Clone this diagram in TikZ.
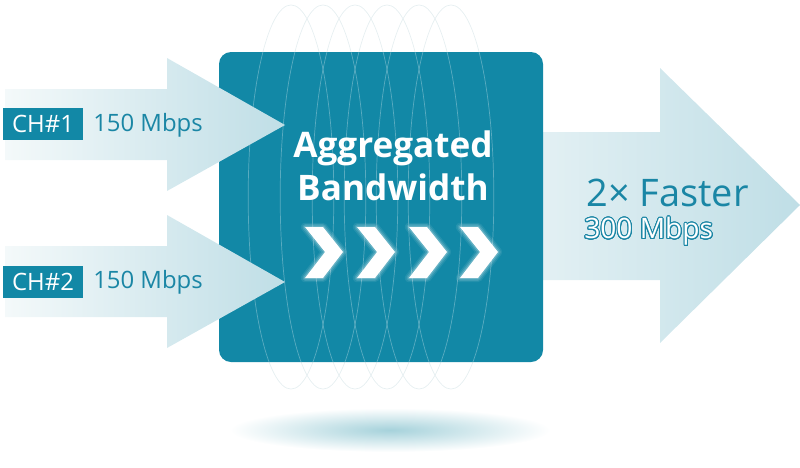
\documentclass[tikz,border=0pt]{standalone}
\usepackage{fontspec}
\setmainfont{Open Sans}
\usepackage{contour}
\contourlength{0.7pt}
\contournumber{24}
\definecolor{boxteal}{HTML}{1288A6}
\definecolor{textteal}{HTML}{1A86A5}
\definecolor{arrowlight}{HTML}{F4F9FA}
\definecolor{arrowdark}{HTML}{BFDEE6}
\definecolor{ringgray}{HTML}{E6EFF1}
\definecolor{shadowteal}{HTML}{A6D2DB}

\tikzset{
  chbox/.style={fill=boxteal, text=white, font=\fontsize{17}{20}\selectfont,
    minimum width=2cm, minimum height=0.78cm, inner sep=0pt},
  ratelabel/.style={text=textteal, font=\fontsize{17}{20}\selectfont, anchor=west, inner sep=0pt},
  ring/.style={line width=0.5pt},
}

\begin{document}
\begin{tikzpicture}[x=0.025cm, y=-0.025cm]

    % Fix the page to the reference size (pixels)
    \useasboundingbox (0,0) rectangle (800,467);

    % Shadow below the box
    \shade[inner color=shadowteal, outer color=white] (390,430) ellipse (4cm and 0.55cm);

    % Output arrow
    \shade[left color=arrowlight!70!arrowdark, right color=arrowdark]
        (530,132) -- (660,132) -- (660,68) -- (800,205) -- (660,343) -- (660,280) -- (530,280) -- cycle;

    % Rings outside the box
    \foreach \cx in {291,323,355,387,419,451}
        \draw[ring, ringgray] (\cx,197) ellipse (1.07cm and 4.8cm);

    % The aggregating box
    \fill[boxteal, rounded corners=0.3cm] (219,52) rectangle (543,362);

    % Rings seen through the box
    \begin{scope}
        \clip[rounded corners=0.3cm] (219,52) rectangle (543,362);
        \foreach \cx in {291,323,355,387,419,451}
            \draw[ring, white, opacity=0.3] (\cx,197) ellipse (1.07cm and 4.8cm);
    \end{scope}

    % Input arrow for the first channel
    \shade[left color=arrowlight, right color=arrowdark]
        (5,89) -- (167,89) -- (167,58) -- (285,125) -- (167,191) -- (167,160) -- (5,160) -- cycle;

    % Input arrow for the second channel
    \shade[left color=arrowlight, right color=arrowdark]
        (5,246) -- (167,246) -- (167,215) -- (285,282) -- (167,348) -- (167,317) -- (5,317) -- cycle;

    % Title of the box
    \node[text=white, font=\fontsize{25}{31}\selectfont\bfseries, align=center]
        (title) at (393,166) {Aggregated\\Bandwidth};

    % Chevrons with a soft glow
    \foreach \cx in {305,357,409,460}{
        \foreach \w/\o in {6pt/0.08, 4pt/0.12, 2pt/0.2}
            \draw[white, opacity=\o, line width=\w, line join=round]
                (\cx,227) -- ++(18,0) -- ++(20,25) -- ++(-20,26) -- ++(-18,0) -- ++(20,-26) -- cycle;
        \fill[white]
            (\cx,227) -- ++(18,0) -- ++(20,25) -- ++(-20,26) -- ++(-18,0) -- ++(20,-26) -- cycle;
    }

    % Channel labels
    \node[chbox] (ch1) at (43,124) {CH\#1};
    \node[ratelabel] (rate1) at (93,125) {150 Mbps};
    \node[chbox] (ch2) at (43,282) {CH\#2};
    \node[ratelabel] (rate2) at (93,282) {150 Mbps};

    % Result labels
    \node[text=textteal, font=\fontsize{27}{32}\selectfont, anchor=west, inner sep=0pt]
        (faster) at (586,193) {2× Faster};
    \node[font=\fontsize{20}{24}\selectfont, anchor=west, inner sep=0pt]
        (total) at (584,232) {\contour{textteal}{\textcolor{white}{300 Mbps}}};

\end{tikzpicture}
\end{document}
